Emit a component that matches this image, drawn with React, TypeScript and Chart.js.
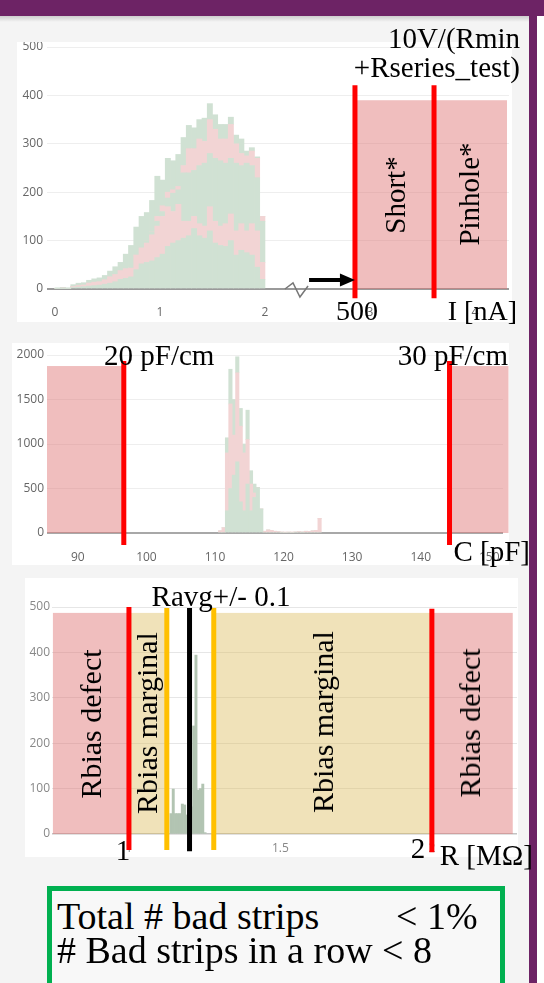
import React, { useEffect, useRef } from 'react';
import { Chart, registerables } from 'chart.js';

Chart.register(...registerables);

// ---------------- Chart 1 : leakage current I [nA] ----------------
const I_BIN_CENTERS = [
  0.025, 0.075, 0.125, 0.175, 0.225, 0.275, 0.325, 0.375, 0.425, 0.475,
  0.525, 0.575, 0.625, 0.675, 0.725, 0.775, 0.825, 0.875, 0.925, 0.975,
  1.025, 1.075, 1.125, 1.175, 1.225, 1.275, 1.325, 1.375, 1.425, 1.475,
  1.525, 1.575, 1.625, 1.675, 1.725, 1.775, 1.825, 1.875, 1.925, 1.975,
];
const I_GREEN_LOW = [1, 1, 1, 3, 4, 5, 6, 7, 8, 10, 12, 15, 20, 22, 25, 40, 52, 55, 58, 65, 72, 88, 95, 100, 105, 110, 125, 110, 105, 120, 95, 90, 88, 100, 70, 80, 75, 70, 45, 20];
const I_PINK_LOW = [0, 1, 0, 2, 3, 3, 6, 7, 7, 9, 13, 15, 18, 20, 18, 30, 33, 40, 54, 65, 78, 82, 65, 75, 35, 30, 25, 25, 25, 50, 45, 40, 47, 55, 50, 55, 45, 65, 75, 35];
const I_GREEN_MID = [0, 0, 0, 0, 0, 0, 0, 0, 0, 0, 0, 0, 0, 0, 0, 0, 3, 5, 6, 10, 10, 18, 38, 30, 100, 100, 95, 120, 130, 110, 130, 135, 125, 115, 140, 120, 140, 120, 110, 85];
const I_PINK_HIGH = [0, 0, 0, 0, 0, 0, 0, 0, 0, 0, 0, 0, 0, 0, 0, 0, 0, 0, 0, 10, 12, 12, 7, 7, 15, 50, 45, 55, 45, 70, 60, 45, 50, 70, 40, 25, 15, 30, 40, 10];
const I_GREEN_TOP = [1, 1, 1, 4, 5, 5, 6, 7, 8, 9, 12, 16, 17, 30, 47, 58, 62, 58, 65, 83, 53, 70, 60, 66, 58, 48, 43, 40, 48, 33, 30, 30, 30, 15, 18, 30, 10, 7, 3, 0];
const I_X_TICKS = [0, 1, 2, 3, 4];
const I_Y_TICKS = [0, 100, 200, 300, 400, 500];
const I_X_MIN = -0.076;
const I_X_MAX = 4.324;
const I_SHORT_X = 2.857;
const I_PINHOLE_X = 3.61;
const I_BOX_END_X = 4.305;
const I_BOX_TOP = 390;
const I_LINE_RANGE = [421, -19];
const I_ARROW_X = [2.42, 2.857];
const I_ARROW_Y = 18.6;
const I_BREAK_X = [2.19, 2.267, 2.333, 2.41];
const I_BREAK_Y = [0, 12.4, -16.5, 6.2];

// ---------------- Chart 2 : capacitance C [pF] ----------------
const C_BIN_CENTERS = [
  110.75, 111.25, 111.75, 112.25, 112.75, 113.25, 113.75, 114.25, 114.75, 115.25,
  115.75, 116.25, 116.75, 117.25, 117.75, 118.25, 118.75, 119.25, 119.75, 120.25,
  120.75, 121.25, 121.75, 122.25, 122.75, 123.25, 123.75, 124.25, 124.75, 125.25,
];
const C_GREEN_LOW = [0, 0, 250, 500, 650, 800, 350, 250, 550, 250, 400, 510, 270, 0, 0, 0, 0, 0, 0, 0, 0, 0, 0, 0, 0, 0, 0, 0, 0, 0];
const C_PINK = [25, 60, 650, 950, 450, 1000, 850, 650, 500, 300, 50, 0, 0, 20, 35, 30, 20, 15, 10, 8, 10, 8, 12, 15, 12, 20, 18, 25, 30, 165];
const C_GREEN_TOP = [0, 0, 170, 390, 400, 180, 200, 100, 330, 150, 100, 0, 0, 0, 0, 0, 0, 0, 0, 0, 0, 0, 0, 0, 0, 0, 0, 0, 0, 0];
const C_X_TICKS = [90, 100, 110, 120, 130, 140, 150];
const C_Y_TICKS = [0, 500, 1000, 1500, 2000];
const C_X_MIN = 85.5;
const C_X_MAX = 152.0;
const C_LOW_CUT = 96.7;
const C_HIGH_CUT = 144.2;
const C_BOX_END = 152.8;
const C_BOX_TOP = 1876;
const C_LINE_RANGE = [1933, -135];

// ---------------- Chart 3 : bias resistance R [MOhm] ----------------
const R_BIN_CENTERS = [1.13875, 1.14625, 1.15375, 1.16125, 1.16875, 1.17625, 1.18375, 1.19125, 1.19875, 1.20625, 1.21375, 1.22125, 1.22875, 1.23625, 1.24375, 1.25125];
const R_COUNTS = [45, 99, 45, 45, 45, 66, 64, 42, 55, 60, 238, 394, 97, 100, 110, 3];
const R_X_TICKS = [1, 1.5, 2];
const R_Y_TICKS = [0, 100, 200, 300, 400, 500];
const R_X_MIN = 0.746;
const R_X_MAX = 2.281;
const R_DEFECT_LOW = 1.0;
const R_DEFECT_HIGH = 2.0;
const R_MARGIN_LOW = 1.125;
const R_MARGIN_HIGH = 1.28;
const R_AVG = 1.2;
const R_BOX_START = 0.749;
const R_BOX_END = 2.267;
const R_BOX_TOP = 487;
const R_LINE_RANGE = [500, -35];

// ---------------- styles ----------------
const PURPLE = '#6d2365';
const GREEN = 'rgb(208,225,211)';
const PINK = 'rgb(242,212,212)';
const R_BAR = 'rgb(178,196,178)';
const PINK_BOX = 'rgba(224,120,120,0.48)';
const YELLOW_BOX = 'rgba(222,190,100,0.45)';
const RED = '#ff0000';
const ORANGE = '#ffc000';
const TICK_FONT = { family: '"Open Sans", sans-serif', size: 12 };
const SERIF = '"Liberation Serif", "Times New Roman", serif';

type Box = { x0: number; x1: number; y0: number; y1: number; color: string };
type VLine = { x: number; y0: number; y1: number; color: string; width: number };
type Overlay = {
  boxes?: Box[];
  lines?: VLine[];
  arrows?: { x0: number; x1: number; y: number; color: string; width: number; head: number; half: number }[];
  polylines?: { xs: number[]; ys: number[]; color: string; width: number }[];
};

function makeOverlay(o: Overlay) {
  return {
    id: 'overlay',
    beforeDatasetsDraw(chart: any) {
      const { ctx } = chart;
      const xs = chart.scales.x;
      const ys = chart.scales.y;
      ctx.save();
      (o.boxes || []).forEach((b) => {
        const a = xs.getPixelForValue(b.x0);
        const c = xs.getPixelForValue(b.x1);
        const d = ys.getPixelForValue(b.y0);
        const e = ys.getPixelForValue(b.y1);
        ctx.fillStyle = b.color;
        ctx.fillRect(Math.min(a, c), Math.min(d, e), Math.abs(c - a), Math.abs(e - d));
      });
      ctx.restore();
    },
    afterDatasetsDraw(chart: any) {
      const { ctx } = chart;
      const xs = chart.scales.x;
      const ys = chart.scales.y;
      ctx.save();
      (o.polylines || []).forEach((p) => {
        ctx.strokeStyle = p.color;
        ctx.lineWidth = p.width;
        ctx.beginPath();
        p.xs.forEach((v, i) => {
          const px = xs.getPixelForValue(v);
          const py = ys.getPixelForValue(p.ys[i]);
          if (i === 0) ctx.moveTo(px, py);
          else ctx.lineTo(px, py);
        });
        ctx.stroke();
      });
      (o.lines || []).forEach((l) => {
        const px = xs.getPixelForValue(l.x);
        ctx.strokeStyle = l.color;
        ctx.lineWidth = l.width;
        ctx.beginPath();
        ctx.moveTo(px, ys.getPixelForValue(l.y0));
        ctx.lineTo(px, ys.getPixelForValue(l.y1));
        ctx.stroke();
      });
      (o.arrows || []).forEach((a) => {
        const p0 = xs.getPixelForValue(a.x0);
        const p1 = xs.getPixelForValue(a.x1);
        const py = ys.getPixelForValue(a.y);
        ctx.strokeStyle = a.color;
        ctx.fillStyle = a.color;
        ctx.lineWidth = a.width;
        ctx.beginPath();
        ctx.moveTo(p0, py);
        ctx.lineTo(p1 - a.head + 1, py);
        ctx.stroke();
        ctx.beginPath();
        ctx.moveTo(p1, py);
        ctx.lineTo(p1 - a.head, py - a.half);
        ctx.lineTo(p1 - a.head, py + a.half);
        ctx.closePath();
        ctx.fill();
      });
      ctx.restore();
    },
  };
}

function xAxis(min: number, max: number, ticks: number[], height: number, pad: number, color: string) {
  return {
    type: 'linear',
    min,
    max,
    stacked: true,
    offset: false,
    grid: { display: false, offset: false, drawTicks: false },
    border: { display: false },
    ticks: { padding: pad, font: TICK_FONT, color, maxRotation: 0, autoSkip: false, callback: (v: any) => String(v) },
    afterBuildTicks: (s: any) => {
      s.ticks = ticks.map((value) => ({ value }));
    },
    afterFit: (s: any) => {
      s.height = height;
      s.paddingLeft = 0;
      s.paddingRight = 0;
    },
  };
}

function yAxis(max: number, ticks: number[], width: number, pad: number, color: string, gridColor: string, zeroColor: string, zeroWidth: number) {
  return {
    type: 'linear',
    min: 0,
    max,
    stacked: true,
    grid: {
      drawTicks: false,
      color: (c: any) => (c.tick && c.tick.value === 0 ? zeroColor : gridColor),
      lineWidth: (c: any) => (c.tick && c.tick.value === 0 ? zeroWidth : 1),
    },
    border: { display: false },
    ticks: { padding: pad, font: TICK_FONT, color, autoSkip: false, callback: (v: any) => String(v) },
    afterBuildTicks: (s: any) => {
      s.ticks = ticks.map((value) => ({ value }));
    },
    afterFit: (s: any) => {
      s.width = width;
      s.paddingTop = 0;
      s.paddingBottom = 0;
    },
  };
}

function series(xs: number[], ys: number[], color: string) {
  return {
    data: xs.map((x, i) => ({ x, y: ys[i] })),
    backgroundColor: color,
    borderWidth: 0,
    barPercentage: 1,
    categoryPercentage: 1,
  };
}

function baseOptions(padding: any, scales: any) {
  return {
    responsive: false,
    animation: false,
    devicePixelRatio: 1,
    layout: { padding },
    plugins: { legend: { display: false }, tooltip: { enabled: false } },
    scales,
  };
}

function chart1Config() {
  return {
    type: 'bar',
    data: {
      datasets: [
        series(I_BIN_CENTERS, I_GREEN_LOW, GREEN),
        series(I_BIN_CENTERS, I_PINK_LOW, PINK),
        series(I_BIN_CENTERS, I_GREEN_MID, GREEN),
        series(I_BIN_CENTERS, I_PINK_HIGH, PINK),
        series(I_BIN_CENTERS, I_GREEN_TOP, GREEN),
      ],
    },
    options: baseOptions(
      { top: 5, right: 3, left: 0, bottom: 0 },
      {
        x: xAxis(I_X_MIN, I_X_MAX, I_X_TICKS, 33, 16, '#666'),
        y: yAxis(500, I_Y_TICKS, 30, 4, '#666', '#eeeeee', '#9a9a9a', 2),
      }
    ),
    plugins: [
      makeOverlay({
        boxes: [{ x0: I_SHORT_X, x1: I_BOX_END_X, y0: 0, y1: I_BOX_TOP, color: PINK_BOX }],
        polylines: [{ xs: I_BREAK_X, ys: I_BREAK_Y, color: '#777', width: 1.5 }],
        lines: [
          { x: I_SHORT_X, y0: I_LINE_RANGE[0], y1: I_LINE_RANGE[1], color: RED, width: 5 },
          { x: I_PINHOLE_X, y0: I_LINE_RANGE[0], y1: I_LINE_RANGE[1], color: RED, width: 5 },
        ],
        arrows: [{ x0: I_ARROW_X[0], x1: I_ARROW_X[1], y: I_ARROW_Y, color: '#000', width: 4, head: 15, half: 6.5 }],
      }),
    ],
  };
}

function chart2Config() {
  return {
    type: 'bar',
    data: {
      datasets: [
        series(C_BIN_CENTERS, C_GREEN_LOW, GREEN),
        series(C_BIN_CENTERS, C_PINK, PINK),
        series(C_BIN_CENTERS, C_GREEN_TOP, GREEN),
      ],
    },
    options: baseOptions(
      { top: 12, right: 6, left: 0, bottom: 0 },
      {
        x: xAxis(C_X_MIN, C_X_MAX, C_X_TICKS, 32, 17, '#666'),
        y: yAxis(2000, C_Y_TICKS, 35, 3, '#666', '#eeeeee', '#a8a8a8', 2),
      }
    ),
    plugins: [
      makeOverlay({
        boxes: [
          { x0: C_X_MIN, x1: C_LOW_CUT, y0: 0, y1: C_BOX_TOP, color: PINK_BOX },
          { x0: C_HIGH_CUT, x1: C_BOX_END, y0: 0, y1: C_BOX_TOP, color: PINK_BOX },
        ],
        lines: [
          { x: C_LOW_CUT, y0: C_LINE_RANGE[0], y1: C_LINE_RANGE[1], color: RED, width: 5 },
          { x: C_HIGH_CUT, y0: C_LINE_RANGE[0], y1: C_LINE_RANGE[1], color: RED, width: 5 },
        ],
      }),
    ],
  };
}

function chart3Config() {
  return {
    type: 'bar',
    data: { datasets: [series(R_BIN_CENTERS, R_COUNTS, R_BAR)] },
    options: baseOptions(
      { top: 29, right: 1, left: 0, bottom: 0 },
      {
        x: xAxis(R_X_MIN, R_X_MAX, R_X_TICKS, 23, 7, '#888'),
        y: yAxis(500, R_Y_TICKS, 27, 2, '#888', '#e6e6e6', '#c4c4c4', 1.5),
      }
    ),
    plugins: [
      makeOverlay({
        boxes: [
          { x0: R_BOX_START, x1: R_DEFECT_LOW, y0: 0, y1: R_BOX_TOP, color: PINK_BOX },
          { x0: R_DEFECT_HIGH, x1: R_BOX_END, y0: 0, y1: R_BOX_TOP, color: PINK_BOX },
          { x0: R_DEFECT_LOW, x1: R_MARGIN_LOW, y0: 0, y1: R_BOX_TOP, color: YELLOW_BOX },
          { x0: R_MARGIN_HIGH, x1: R_DEFECT_HIGH, y0: 0, y1: R_BOX_TOP, color: YELLOW_BOX },
        ],
        lines: [
          { x: R_DEFECT_LOW, y0: R_LINE_RANGE[0], y1: R_LINE_RANGE[1], color: RED, width: 5 },
          { x: R_DEFECT_HIGH, y0: R_LINE_RANGE[0] - 4, y1: R_LINE_RANGE[1] - 5, color: RED, width: 5 },
          { x: R_MARGIN_LOW, y0: R_LINE_RANGE[0] - 2, y1: R_LINE_RANGE[1], color: ORANGE, width: 5 },
          { x: R_MARGIN_HIGH, y0: R_LINE_RANGE[0] - 2, y1: R_LINE_RANGE[1], color: ORANGE, width: 5 },
          { x: R_AVG, y0: R_LINE_RANGE[0] - 2, y1: R_LINE_RANGE[1] - 3, color: '#000', width: 5 },
        ],
      }),
    ],
  };
}

function ChartBox(props: { left: number; top: number; width: number; height: number; config: () => any }) {
  const ref = useRef<HTMLCanvasElement>(null);
  useEffect(() => {
    const chart = new Chart(ref.current as HTMLCanvasElement, props.config());
    return () => chart.destroy();
  }, []);
  return (
    <div style={{ position: 'absolute', left: props.left, top: props.top, width: props.width, height: props.height, background: '#fff' }}>
      <canvas ref={ref} width={props.width} height={props.height} style={{ display: 'block', width: props.width, height: props.height }} />
    </div>
  );
}

function Label(props: { text: string; x: number; y: number; size: number; anchor?: 'left' | 'center' | 'right'; rotate?: boolean }) {
  const anchor = props.anchor || 'center';
  const tx = anchor === 'left' ? '0' : anchor === 'right' ? '-100%' : '-50%';
  return (
    <div
      style={{
        position: 'absolute',
        left: props.x,
        top: props.y,
        transform: `translate(${tx},-50%)${props.rotate ? ' rotate(-90deg)' : ''}`,
        fontFamily: SERIF,
        fontSize: props.size,
        lineHeight: 1,
        whiteSpace: 'nowrap',
        color: '#000',
      }}
    >
      {props.text}
    </div>
  );
}

export default function App() {
  return (
    <div style={{ position: 'absolute', left: 0, top: 0, width: 544, height: 983, overflow: 'hidden', background: '#ffffff' }}>
      <div style={{ position: 'absolute', left: 0, top: 16, width: 529, height: 967, background: '#f4f4f4' }} />
      <div style={{ position: 'absolute', left: 0, top: 16, width: 529, height: 6, background: 'linear-gradient(rgba(0,0,0,0.16), rgba(0,0,0,0))' }} />
      <div style={{ position: 'absolute', left: 0, top: 0, width: 544, height: 16, background: PURPLE }} />
      <div style={{ position: 'absolute', left: 529, top: 0, width: 8, height: 983, background: PURPLE }} />

      <ChartBox left={17} top={42} width={495} height={280} config={chart1Config} />
      <ChartBox left={12} top={343} width={497} height={222} config={chart2Config} />
      <ChartBox left={25} top={578} width={493} height={279} config={chart3Config} />

      <Label text="10V/(Rmin" x={520} y={38} size={29} anchor="right" />
      <Label text="+Rseries_test)" x={520} y={67} size={29} anchor="right" />
      <Label text="Short*" x={395} y={195} size={29} rotate />
      <Label text="Pinhole*" x={469} y={194} size={29} rotate />
      <Label text="500" x={357} y={311} size={28} />
      <Label text="I [nA]" x={517} y={311} size={28} anchor="right" />

      <Label text="20 pF/cm" x={104} y={355} size={29} anchor="left" />
      <Label text="30 pF/cm" x={508} y={355} size={29} anchor="right" />
      <Label text="C [pF]" x={530} y={551} size={29} anchor="right" />

      <Label text="Ravg+/- 0.1" x={221} y={596} size={29} />
      <Label text="Rbias defect" x={91} y={724} size={30} rotate />
      <Label text="Rbias marginal" x={147} y={723} size={30} rotate />
      <Label text="Rbias marginal" x={323} y={722} size={30} rotate />
      <Label text="Rbias defect" x={470} y={723} size={30} rotate />
      <Label text="1" x={123} y={850} size={29} />
      <Label text="2" x={418} y={848} size={29} />
      <Label text="R [MΩ]" x={533} y={855} size={29} anchor="right" />

      <div style={{ position: 'absolute', left: 47, top: 886, width: 458, height: 110, boxSizing: 'border-box', border: '5px solid #00b050', background: '#f8f8f8' }} />
      <Label text="Total # bad strips" x={57} y={916} size={38} anchor="left" />
      <Label text="< 1%" x={396} y={916} size={38} anchor="left" />
      <Label text="# Bad strips in a row < 8" x={57} y={950} size={38} anchor="left" />
    </div>
  );
}
